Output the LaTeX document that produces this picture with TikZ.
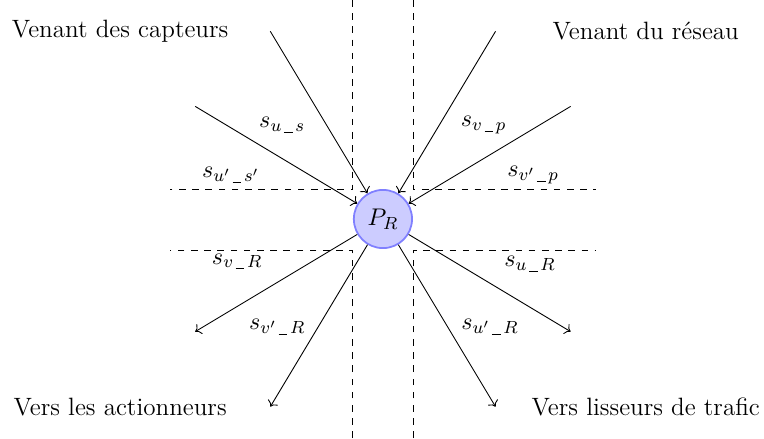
\documentclass[tikz,border=0pt]{standalone}
\usepackage{amsmath}
\usepackage{tikz}
\usetikzlibrary{arrows.meta, positioning}
\newcommand{\sousl}{\text{\kern.15em\rule[-.08em]{.5em}{.45pt}\kern.15em}}

\begin{document}
\begin{tikzpicture}[
          every node/.style={inner sep=2pt, font=\fontsize{11.4}{13.7}\selectfont},
          guide/.style={dashed},
          flow/.style={->}
        ]
          \useasboundingbox (-6.12,-3.5) rectangle (6.09,3.5);
          % zones
          \draw[guide] (-0.48,3.5) -- (-0.48,0.48) -- (-3.4,0.48);
          \draw[guide] (0.48,3.5) -- (0.48,0.48) -- (3.4,0.48);
          \draw[guide] (-0.48,-3.5) -- (-0.48,-0.5) -- (-3.4,-0.5);
          \draw[guide] (0.48,-3.5) -- (0.48,-0.5) -- (3.4,-0.5);
          % routeur
          \node[circle, draw=blue!50, fill=blue!20, thick, minimum size=0.93cm] (pr) at (0,0) {$P_R$};
          % extremites
          \coordinate (cu) at (-1.8,3.0);
          \coordinate (cu2) at (-3.0,1.8);
          \coordinate (cv) at (1.8,3.0);
          \coordinate (cv2) at (3.0,1.8);
          \coordinate (ov) at (-3.0,-1.8);
          \coordinate (ov2) at (-1.8,-3.0);
          \coordinate (ou) at (3.0,-1.8);
          \coordinate (ou2) at (1.8,-3.0);
          \draw[flow] (cu) -- (pr);
          \draw[flow] (cu2) -- (pr);
          \draw[flow] (cv) -- (pr);
          \draw[flow] (cv2) -- (pr);
          \draw[flow] (pr) -- (ov);
          \draw[flow] (pr) -- (ov2);
          \draw[flow] (pr) -- (ou);
          \draw[flow] (pr) -- (ou2);
          % textes
          \node (capt) at (-4.2,3.0) {Venant des capteurs};
          \node (res) at (4.2,3.0) {Venant du r\'eseau};
          \node (act) at (-4.2,-3.0) {Vers les actionneurs};
          \node (liss) at (4.2,-3.0) {Vers lisseurs de trafic};
          % etiquettes
          \node (lus) at (-1.61,1.5) {$s_{u\sousl s}$};
          \node (lus2) at (-2.43,0.7) {$s_{u'\sousl s'}$};
          \node (lvp) at (1.61,1.5) {$s_{v\sousl p}$};
          \node (lvp2) at (2.4,0.7) {$s_{v'\sousl p}$};
          \node (lvr) at (-2.33,-0.68) {$s_{v\sousl R}$};
          \node (lvr2) at (-1.69,-1.72) {$s_{v'\sousl R}$};
          \node (lur) at (2.35,-0.72) {$s_{u\sousl R}$};
          \node (lur2) at (1.71,-1.72) {$s_{u'\sousl R}$};
        \end{tikzpicture}
\end{document}
